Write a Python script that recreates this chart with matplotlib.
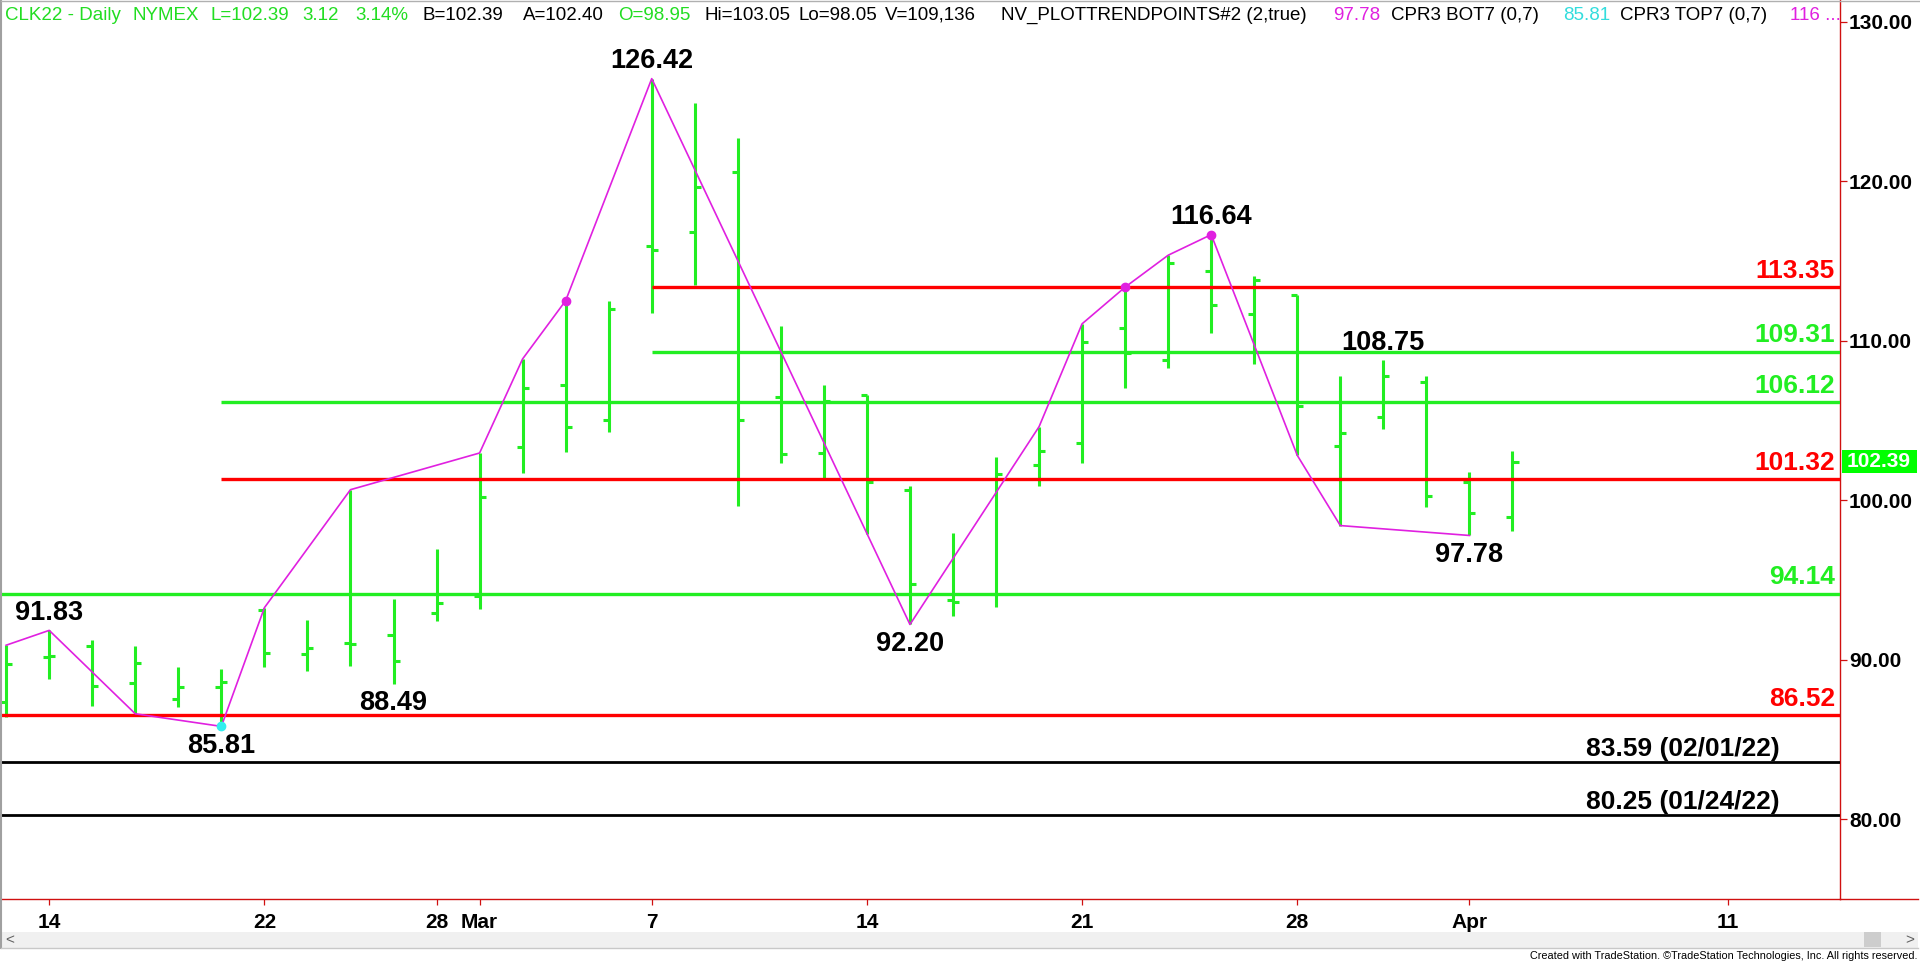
import matplotlib
matplotlib.use('Agg')
import matplotlib.pyplot as plt
import matplotlib.transforms as mtransforms
from matplotlib.patches import Rectangle
from matplotlib.lines import Line2D
import numpy as np
import pandas as pd

plt.rcParams['font.family'] = ['Liberation Sans', 'DejaVu Sans']

# trading days on the chart (Presidents Day 02/21 is skipped)
days = pd.bdate_range('2022-02-11', '2022-04-15')
days = days[days != pd.Timestamp('2022-02-21')]

# daily OHLC, CLK22, 02/11/22 .. 04/04/22
opens = [87.35, 90.15, 90.85, 88.50, 87.50, 88.30, 93.10, 90.35, 91.05, 91.55,
         92.95, 94.00, 103.35, 107.20, 105.00, 115.90, 116.80, 120.55, 106.45, 102.95,
         106.60, 100.60, 93.75, 94.10, 102.20, 103.60, 110.80, 108.75, 114.35, 111.65,
         112.85, 103.40, 105.20, 107.40, 101.15, 98.95]
highs = [90.90, 91.83, 91.20, 90.85, 89.55, 89.40, 93.25, 92.45, 100.65, 93.80,
         96.95, 102.95, 108.85, 112.50, 112.50, 126.42, 124.90, 122.70, 110.90, 107.20,
         106.60, 100.85, 97.95, 102.70, 104.60, 111.05, 113.35, 115.35, 116.64, 114.05,
         112.85, 107.80, 108.75, 107.80, 101.75, 103.05]
lows = [86.40, 88.75, 87.10, 86.60, 87.05, 85.81, 89.55, 89.30, 89.60, 88.49,
        92.40, 93.20, 101.70, 103.00, 104.25, 111.70, 113.50, 99.65, 102.30, 101.25,
        97.90, 92.20, 92.70, 93.30, 100.85, 102.35, 107.00, 108.25, 110.45, 108.55,
        102.80, 98.40, 104.45, 99.55, 97.78, 98.05]
closes = [89.70, 90.20, 88.35, 89.80, 88.25, 88.60, 90.40, 90.70, 90.95, 89.90,
          93.55, 100.20, 107.00, 104.55, 112.00, 115.70, 119.60, 105.00, 102.90, 106.20,
          101.15, 94.75, 93.60, 101.65, 103.05, 109.90, 109.20, 114.85, 112.25, 113.80,
          105.90, 104.20, 107.75, 100.25, 99.20, 102.39]

# NV_PLOTTRENDPOINTS zigzag (bar index, price)
zz_idx = [0, 1, 3, 5, 6, 8, 11, 12, 13, 15, 21, 24, 25, 26, 27, 28, 30, 31, 34]
zz_val = [90.90, 91.83, 86.60, 85.81, 93.25, 100.65, 102.95, 108.85, 112.50, 126.42,
          92.20, 104.60, 111.05, 113.35, 115.35, 116.64, 102.80, 98.40, 97.78]
dot_idx = [13, 26, 28]
dot_val = [112.50, 113.35, 116.64]
cyan_idx = [5]
cyan_val = [85.81]

# swing labels
swing_idx = [1, 5, 9, 15, 21, 28, 32, 34]
swing_val = [91.83, 85.81, 88.49, 126.42, 92.20, 116.64, 108.75, 97.78]
swing_above = [True, False, False, True, False, True, True, False]

# horizontal levels
levels = [113.35, 109.31, 106.12, 101.32, 94.14, 86.52]
level_colors = ['#ff0000', '#22ee22', '#22ee22', '#ff0000', '#22ee22', '#ff0000']
level_start = [15, 15, 5, 5, None, None]
ref_levels = [83.59, 80.25]
ref_dates = ['02/01/22', '01/24/22']

# x axis date labels
tick_dates = ['2022-02-14', '2022-02-22', '2022-02-28', '2022-03-01', '2022-03-07',
              '2022-03-14', '2022-03-21', '2022-03-28', '2022-04-01', '2022-04-11']
tick_labels = ['14', '22', '28', 'Mar', '7', '14', '21', '28', 'Apr', '11']
y_ticks = [80, 90, 100, 110, 120, 130]
last_price = 102.39

GREEN = '#22ee22'
MAGENTA = '#e020e0'
W, H = 1920, 963


def fx(p):
    return p / W


def fy(p):
    return 1 - p / H


fig = plt.figure(figsize=(19.2, 9.63), dpi=100)
ax = fig.add_axes([fx(1), fy(899.3), 1839 / W, 899.3 / H])

x = np.arange(len(opens))
ax.vlines(x, lows, highs, color=GREEN, lw=2.2, zorder=2)
ax.hlines(opens, x - 0.14, x, color=GREEN, lw=2.2, zorder=2)
ax.hlines(closes, x, x + 0.14, color=GREEN, lw=2.2, zorder=2)

xmin, xmax = -0.12, 42.61
ax.set_xlim(xmin, xmax)
ax.set_ylim(74.97, 131.35)

# level lines
for lv, c, st in zip(levels, level_colors, level_start):
    ax.hlines(lv, xmin if st is None else st, xmax, color=c, lw=2.4, zorder=3)
for lv in ref_levels:
    ax.hlines(lv, xmin, xmax, color='black', lw=2.0, zorder=3)

ax.plot(zz_idx, zz_val, color=MAGENTA, lw=1.2, zorder=4)
ax.plot(dot_idx, dot_val, 'o', color=MAGENTA, ms=6, zorder=5)
ax.plot(cyan_idx, cyan_val, 'o', color='#33eeee', ms=6, zorder=5)

for i, v, up in zip(swing_idx, swing_val, swing_above):
    ax.annotate(f'{v:.2f}', (i, v), xytext=(0, 7.5 if up else -4.5),
                textcoords='offset points', ha='center',
                va='baseline' if up else 'top', fontsize=19.5,
                fontweight='bold', color='black', zorder=6)

blend = mtransforms.blended_transform_factory(ax.transAxes, ax.transData)
for lv, c in zip(levels, level_colors):
    ax.annotate(f'{lv:.2f}', (1834 / 1839, lv), xycoords=blend,
                xytext=(0, 6.8), textcoords='offset points', ha='right',
                va='baseline', fontsize=19, fontweight='bold', color=c)
for lv, d in zip(ref_levels, ref_dates):
    ax.annotate(f'{lv:.2f} ({d})', (1682 / 1839, lv), xycoords=blend,
                xytext=(0, 4.3), textcoords='offset points', ha='center',
                va='baseline', fontsize=19, fontweight='bold', color='black')

# axes styling
pos = [days.get_loc(pd.Timestamp(d)) for d in tick_dates]
ax.set_xticks(pos)
ax.set_xticklabels(tick_labels, fontsize=15, fontweight='bold')
ax.tick_params(axis='x', colors='#d01010', labelcolor='black', length=4,
               width=0.9, pad=6)
ax.yaxis.tick_right()
ax.set_yticks(y_ticks)
ax.set_yticklabels([f'{v:.2f}' for v in y_ticks], fontsize=15, fontweight='bold')
ax.tick_params(axis='y', colors='#d01010', labelcolor='black', length=5,
               width=0.9, pad=1.5)
for s in ['top', 'left']:
    ax.spines[s].set_visible(False)
ax.spines['right'].set_color('#d01010')
ax.spines['bottom'].set_color('#d01010')
ax.spines['right'].set_linewidth(1.0)
ax.spines['bottom'].set_linewidth(1.0)

# last price marker on the price axis
ax.add_patch(Rectangle((1840.7 / 1839, last_price - 0.72), 75 / 1839, 1.44,
                       transform=blend, facecolor='#00ff00', edgecolor='none',
                       clip_on=False, zorder=7))
ax.text(1846 / 1839, last_price, f'{last_price:.2f}', transform=blend,
        ha='left', va='center', fontsize=15, fontweight='bold',
        color='white', clip_on=False, zorder=8)

# header line
header = [
    (5, 'CLK22 - Daily', '#22dd22'), (132, 'NYMEX', '#22dd22'),
    (210, 'L=102.39', '#22dd22'), (302, '3.12', '#22dd22'), (355, '3.14%', '#22dd22'),
    (422, 'B=102.39', 'black'), (523, 'A=102.40', 'black'),
    (618, 'O=98.95', '#22dd22'), (704, 'Hi=103.05', 'black'),
    (799, 'Lo=98.05', 'black'), (885, 'V=109,136', 'black'),
    (1001, 'NV_PLOTTRENDPOINTS#2 (2,true)', 'black'), (1333, '97.78', MAGENTA),
    (1391, 'CPR3 BOT7 (0,7)', 'black'), (1563, '85.81', '#33dddd'),
    (1620, 'CPR3 TOP7 (0,7)', 'black'), (1790, '116 ...', MAGENTA),
]
for px, s, c in header:
    fig.text(fx(px), fy(15), s, color=c, fontsize=13.5, ha='left', va='center')

# frame pieces, scrollbar and credit
fig.add_artist(Line2D([fx(1), fx(1)], [fy(0), fy(948)], color='#a0a0a0', lw=1.5))
fig.add_artist(Line2D([fx(1), fx(1920)], [fy(0.8), fy(0.8)], color='#b0b0b0', lw=1.0))
fig.add_artist(Line2D([fx(1840), fx(1918)], [fy(899.3), fy(899.3)],
                      color='#d01010', lw=1.0))
fig.add_artist(Rectangle((fx(2), fy(948)), fx(1916), 16 / H, transform=fig.transFigure,
                         facecolor='#f0f0f0', edgecolor='none'))
fig.add_artist(Line2D([fx(1), fx(1918)], [fy(948), fy(948)], color='#c8c8c8', lw=1.0))
fig.add_artist(Rectangle((fx(1864), fy(947)), fx(17), 15 / H, transform=fig.transFigure,
                         facecolor='#cdcdcd', edgecolor='none'))
fig.text(fx(10), fy(940), '<', fontsize=11, color='#606060', ha='center', va='center')
fig.text(fx(1910), fy(940), '>', fontsize=11, color='#606060', ha='center', va='center')
fig.text(fx(1918), fy(956), 'Created with TradeStation. \u00a9TradeStation Technologies, Inc. All rights reserved.',
         fontsize=7.8, ha='right', va='center', color='black')

fig.savefig('out.png', dpi=100, facecolor='white')
